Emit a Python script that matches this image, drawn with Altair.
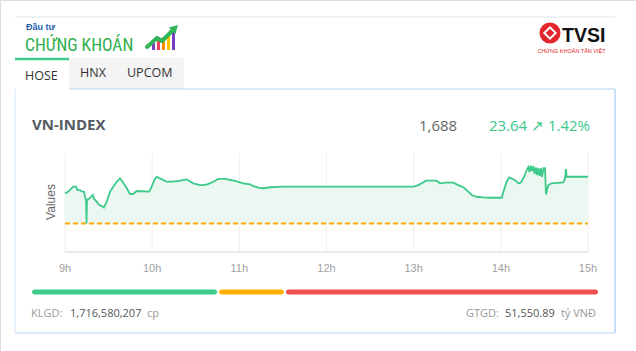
import altair as alt
import pandas as pd

# ---------------- data ----------------
INDEX_NAME = "VN-INDEX"
PREV_CLOSE = 1664.36
CLOSE = 1688
CHANGE = 23.64
CHANGE_PCT = 1.42
TABS = ["HOSE", "HNX", "UPCOM"]
KLGD = "1,716,580,207"
GTGD = "51,550.89"

# minutes after 09:00 and index value
MINUTES = [0, 2.3, 5.7, 7.6, 8.5, 10.3, 11.7, 13.1, 13.8, 14.5, 14.8, 15.1, 17.2, 19.1,
           20.0, 21.8, 23.6, 25.5, 26.8, 28.7, 31.0, 33.2, 35.6, 37.9, 40.1, 42.5, 44.7,
           46.8, 49.4, 58.0, 59.7, 61.5, 63.1, 65.4, 70.0, 74.3, 79.2, 83.8, 88.3, 92.9,
           95.2, 98.4, 102.1, 105.5, 110.1, 113.6, 117.0, 122.7, 127.3, 129.6, 133.1,
           136.5, 141.1, 150.0, 240.0, 243.2, 245.5, 248.5, 255.8, 258.1, 261.6, 267.3,
           270.7, 274.2, 277.6, 279.9, 283.4, 287.9, 292.5, 300.6, 302.2, 304.0, 305.8,
           308.2, 310.4, 312.0, 313.7, 316.0, 317.8, 319.0, 319.7, 320.7, 321.4, 322.5,
           323.2, 324.2, 324.9, 325.9, 326.6, 327.6, 328.3, 329.4, 330.4, 331.1, 332.7,
           335.0, 343.0, 344.2, 344.8, 345.3, 360.0]
VALUES = [1679.6, 1680.5, 1683.0, 1683.0, 1681.3, 1681.3, 1680.5, 1680.5, 1677.9, 1676.3,
          1664.4, 1676.3, 1677.3, 1678.8, 1676.8, 1675.4, 1673.7, 1673.2, 1672.4, 1675.4,
          1680.5, 1683.0, 1685.5, 1687.2, 1685.0, 1682.2, 1679.3, 1679.3, 1680.8, 1680.5,
          1683.0, 1686.4, 1688.0, 1687.2, 1685.5, 1685.5, 1686.0, 1686.7, 1684.7, 1683.8,
          1683.8, 1684.3, 1685.5, 1686.9, 1686.9, 1686.4, 1685.9, 1684.7, 1684.2, 1683.3,
          1682.5, 1682.2, 1682.7, 1683.0, 1683.0, 1683.8, 1684.7, 1686.0, 1686.0, 1684.7,
          1685.0, 1685.0, 1683.8, 1682.7, 1680.5, 1678.8, 1677.9, 1677.6, 1677.4, 1677.4,
          1681.3, 1685.5, 1687.7, 1686.9, 1685.9, 1684.7, 1685.0, 1688.0, 1691.4, 1692.9,
          1690.4, 1693.6, 1690.9, 1693.4, 1689.4, 1692.6, 1688.9, 1692.4, 1688.4, 1692.3,
          1687.9, 1692.3, 1692.3, 1679.1, 1683.8, 1684.7, 1685.2, 1687.2, 1691.9, 1688.0,
          1688.0]

HOURS = [9, 10, 11, 12, 13, 14, 15]
HOUR_LABELS = ["9h", "10h", "11h", "12h", "13h", "14h", "15h"]

BREADTH = ["up", "unchanged", "down"]
BREADTH_COUNTS = [112, 40, 188]

# ---------------- tables ----------------
df = pd.DataFrame({"hour": [9 + m / 60 for m in MINUTES], "value": VALUES})
df["ref"] = PREV_CLOSE
df_hours = pd.DataFrame({"hour": HOURS, "label": HOUR_LABELS})
ends, acc = [], 0
for c in BREADTH_COUNTS:
    acc += c
    ends.append(acc)
df_b = pd.DataFrame({"cat": BREADTH, "start": [e - c for e, c in zip(ends, BREADTH_COUNTS)], "end": ends})

FONT = "Open Sans"
AXFONT = "Liberation Sans"
GREEN = "#3cc98a"

xs = alt.Scale(domain=[9, 15], range=[65, 588], nice=False, zero=False)
ys = alt.Scale(domain=[1650, 1700], range=[252, 153], nice=False, zero=False)

one = pd.DataFrame({"k": [0]})


def label(text, x, y, size, color, weight="normal", align="left", font=FONT,
          baseline="alphabetic", angle=0):
    return alt.Chart(pd.DataFrame({"t": [text]})).mark_text(
        align=align, baseline=baseline, fontSize=size, fontWeight=weight,
        color=color, font=font, angle=angle
    ).encode(x=alt.value(x), y=alt.value(y), text="t:N")


def rule(x1, y1, x2, y2, color, width=1, cap="butt"):
    return alt.Chart(one).mark_rule(color=color, strokeWidth=width, strokeCap=cap).encode(
        x=alt.value(x1), y=alt.value(y1), x2=alt.value(x2), y2=alt.value(y2))


def box(x1, y1, x2, y2, color):
    return alt.Chart(one).mark_rect(color=color).encode(
        x=alt.value(x1), y=alt.value(y1), x2=alt.value(x2), y2=alt.value(y2))


layers = []
# header line
layers.append(rule(15, 17, 615, 17, "#dfe5ec", 1))
# logo
layers.append(label("Đầu tư", 26, 30, 9, "#1f5fae", weight="bold", font="Liberation Sans"))
layers.append(label("CHỨNG KHOÁN", 25, 51, 17.5, "#2fb04e",
                    font="Liberation Sans Narrow, Roboto Condensed, DejaVu Sans Condensed"))
for bx, btop, bc in [(153.5, 43, "#7a3fc0"), (158.5, 40, "#e8405a"), (163.5, 37, "#ff8c00"),
                     (168.5, 34, "#ffc200"), (173.5, 31, "#7a3fc0")]:
    layers.append(rule(bx, btop, bx, 50, bc, 3))
layers.append(rule(147, 47, 157, 38, "#2fb457", 4, "round"))
layers.append(rule(157, 38, 162, 41, "#2fb457", 4, "round"))
layers.append(rule(162, 41, 173, 30, "#2fb457", 4, "round"))
layers.append(alt.Chart(one).mark_point(shape="triangle-up", filled=True, size=90,
                                        color="#2fb457", angle=45, opacity=1).encode(
    x=alt.value(175), y=alt.value(28)))
# TVSI logo
layers.append(alt.Chart(one).mark_point(shape="circle", filled=True, size=441,
                                        color="#e3262c", opacity=1).encode(
    x=alt.value(550), y=alt.value(33)))
layers.append(alt.Chart(one).mark_point(shape="diamond", filled=False, size=130,
                                        color="white", strokeWidth=2, opacity=1).encode(
    x=alt.value(550), y=alt.value(33)))
layers.append(label("TVSI", 562, 42, 19.5, "#111111", weight="bold", font="Liberation Sans"))
layers.append(label("CHỨNG KHOÁN TÂN VIỆT", 571.5, 53, 5.5, "#e3262c", align="center",
                    font="Liberation Sans"))

# tabs
layers.append(box(69, 58, 184, 89, "#f4f4f4"))
layers.append(rule(15, 59, 69, 59, GREEN, 2.5))
layers.append(label(TABS[0], 25, 80, 12.5, "#333333"))
layers.append(label(TABS[1], 80, 77, 12.5, "#333333"))
layers.append(label(TABS[2], 127, 77, 12.5, "#333333"))

# panel border
layers.append(rule(69, 89, 615, 89, "#cfe2f7", 1.5))
layers.append(rule(15, 89, 15, 333, "#d6e7f8", 1))
layers.append(rule(615, 89, 615, 333, "#c8def7", 2))
layers.append(rule(15, 333, 615, 333, "#d2e5f8", 1.5))

# title row
layers.append(label(INDEX_NAME, 32, 130, 15, "#555a61", weight="bold"))
layers.append(label(f"{CLOSE:,}", 419, 131, 15, "#666666"))
layers.append(label(f"{CHANGE:.2f} ↗ {CHANGE_PCT:.2f}%", 590, 131, 15, GREEN, align="right"))

# chart
layers.append(alt.Chart(df_hours).mark_rule(color="#efefef", strokeWidth=1).encode(
    x=alt.X("hour:Q", scale=xs, axis=None), y=alt.value(153), y2=alt.value(252)))
layers.append(alt.Chart(one).mark_rule(color="#ebebeb", strokeWidth=2).encode(
    x=alt.XDatum(9, scale=xs, axis=None), x2=alt.X2Datum(15), y=alt.value(252)))
layers.append(alt.Chart(df).mark_area(color="#eaf8f1", opacity=1).encode(
    x=alt.X("hour:Q", scale=xs, axis=None),
    y=alt.Y("value:Q", scale=ys, axis=None),
    y2="ref:Q"))
layers.append(alt.Chart(one).mark_rule(color="#ffaa00", strokeWidth=2, strokeDash=[5, 3]).encode(
    x=alt.XDatum(9, scale=xs, axis=None), x2=alt.X2Datum(15),
    y=alt.YDatum(PREV_CLOSE, scale=ys, axis=None)))
layers.append(alt.Chart(df).mark_line(color=GREEN, strokeWidth=1.8).encode(
    x=alt.X("hour:Q", scale=xs, axis=None),
    y=alt.Y("value:Q", scale=ys, axis=None)))
layers.append(alt.Chart(df_hours).mark_text(fontSize=11, color="#a0a0a0", font=AXFONT,
                                            baseline="middle").encode(
    x=alt.X("hour:Q", scale=xs, axis=None), y=alt.value(269), text="label:N"))
layers.append(label("Values", 51, 202, 12, "#666666", align="center", baseline="middle",
                    font=AXFONT, angle=270))

# breadth bar
total = sum(BREADTH_COUNTS)
layers.append(alt.Chart(df_b).mark_bar(cornerRadius=2.5, x2Offset=-2).encode(
    x=alt.X("start:Q", scale=alt.Scale(domain=[0, total], range=[32, 600], nice=False, zero=False),
            axis=None),
    x2="end:Q",
    y=alt.value(289.5), y2=alt.value(294.5),
    color=alt.Color("cat:N", scale=alt.Scale(domain=BREADTH,
                                             range=["#3dcc8e", "#ffb000", "#f04d4d"]),
                    legend=None)))

# footer
layers.append(label("KLGD:", 31, 317, 11, "#9a9a9a"))
layers.append(label(KLGD, 70, 317, 11, "#555555"))
layers.append(label("cp", 147, 317, 11, "#9a9a9a"))
layers.append(label("GTGD:", 466, 317, 11, "#9a9a9a"))
layers.append(label(GTGD, 505, 317, 11, "#555555"))
layers.append(label("tỷ VNĐ", 596, 317, 11, "#9a9a9a", align="right"))

chart = alt.layer(*layers).resolve_scale(
    x="independent", y="independent", color="independent"
).properties(
    width=636, height=351, padding=0,
    autosize=alt.AutoSizeParams(type="none")
).configure_view(stroke=None).configure(background="white")

chart.save("out.html", embed_options={"renderer": "svg", "actions": False})
